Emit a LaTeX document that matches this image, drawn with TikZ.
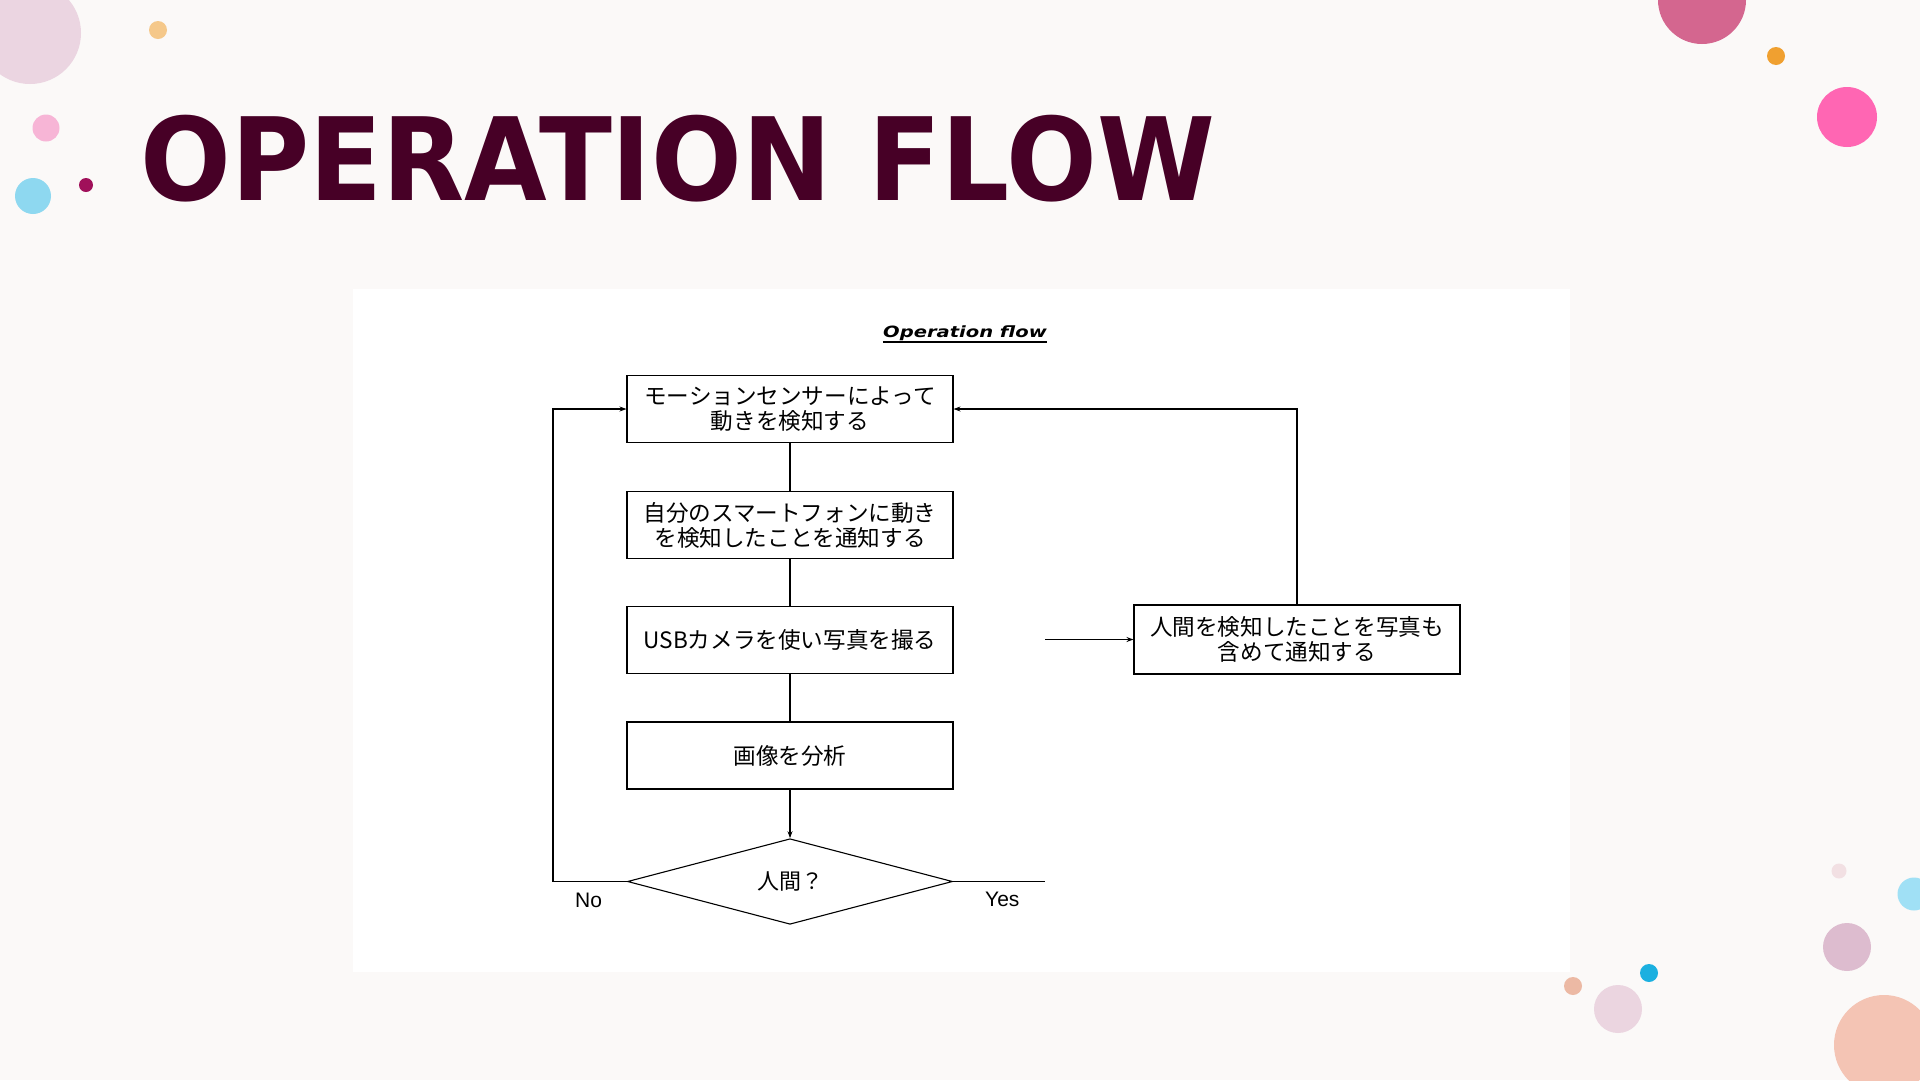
\documentclass[tikz,border=0pt]{standalone}
\usepackage{fontspec}
\usetikzlibrary{shapes.geometric,arrows.meta}
\newfontfamily\jpfont{Noto Sans CJK JP}
\newfontfamily\dvfont{DejaVu Sans}
\newfontfamily\arfont{Liberation Sans}
\definecolor{bgcol}{HTML}{FBF9F8}
\definecolor{titlecol}{HTML}{470026}
\definecolor{cA}{HTML}{EBD5E1}
\definecolor{cB}{HTML}{F5C88A}
\definecolor{cC}{HTML}{F7B5D6}
\definecolor{cD}{HTML}{8ED8F0}
\definecolor{cE}{HTML}{A0105A}
\definecolor{cF}{HTML}{D4668F}
\definecolor{cG}{HTML}{F0A030}
\definecolor{cH}{HTML}{FF66B3}
\definecolor{cI}{HTML}{F2E0E3}
\definecolor{cJ}{HTML}{A0E0F5}
\definecolor{cK}{HTML}{DDBCCF}
\definecolor{cL}{HTML}{F4C4B4}
\definecolor{cM}{HTML}{ECB9A4}
\definecolor{cN}{HTML}{1BB0E0}
\definecolor{cO}{HTML}{EBD5E0}
\tikzset{
  flowbox/.style={draw=black, line width=1.1pt, fill=white, minimum width=326pt,
    minimum height=67pt, inner sep=0pt, align=center,
    font=\jpfont\fontsize{22.6}{25}\selectfont},
  decbox/.style={draw=black, line width=1.1pt, shape=diamond, minimum width=325pt,
    minimum height=85pt, inner sep=0pt, font=\jpfont\fontsize{22}{25}\selectfont},
  conn/.style={line width=1.1pt, draw=black},
  arr/.style={conn, -{Stealth[length=7pt,width=5pt]}},
  lbl/.style={inner sep=0pt, font=\arfont\fontsize{21}{25}\selectfont}
}
\begin{document}
\begin{tikzpicture}[x=1pt,y=-1pt]
\useasboundingbox (0,0) rectangle (1920,1080);
\clip (0,0) rectangle (1920,1080);
\fill[bgcol] (0,0) rectangle (1920,1080);
% decorative dots
\fill[cA] (30,33) circle (51pt);
\fill[cB] (158,30) circle (9pt);
\fill[cC] (46,128) circle (13.5pt);
\fill[cD] (33,196) circle (18pt);
\fill[cE] (86,185) circle (7pt);
\fill[cF] (1702,0) circle (44pt);
\fill[cG] (1776,56) circle (9pt);
\fill[cH] (1847,117) circle (30pt);
\fill[cI] (1839,871) circle (7.5pt);
\fill[cJ] (1914,894) circle (16.5pt);
\fill[cK] (1847,947) circle (24pt);
\fill[cL] (1884,1045) circle (50pt);
\fill[cM] (1573,986) circle (9pt);
\fill[cN] (1649,973) circle (9pt);
\fill[cO] (1618,1009) circle (24pt);
% title
\node[anchor=base west, inner sep=0pt, text=titlecol] (title) at (140,200)
  {\scalebox{0.929}[1]{\dvfont\bfseries\fontsize{115}{120}\selectfont OPERATION FLOW}};
% panel
\fill[white] (353,289) rectangle (1570,972);
\node[anchor=base, inner sep=0pt] (sub) at (965,337)
  {\scalebox{1.26}[1]{\dvfont\bfseries\itshape\fontsize{15.5}{18}\selectfont Operation flow}};
\draw[line width=1.2pt] ([yshift=-5pt]sub.base west) -- ([yshift=-5pt]sub.base east);
% flow nodes
\node[flowbox] (b1) at (790,409) {モーションセンサーによって\\動きを検知する};
\node[flowbox] (b2) at (790,525) {自分のスマートフォンに動き\\を検知したことを通知する};
\node[flowbox] (b3) at (790,640) {USBカメラを使い写真を撮る};
\node[flowbox] (b4) at (790,755.5) {画像を分析};
\node[decbox] (dec) at (790,881.5) {人間？};
\node[flowbox, minimum height=69pt] (b5) at (1297,639.5)
  {人間を検知したことを写真も\\含めて通知する};
\coordinate (nocorner) at (553,881.5);
\coordinate (yesend) at (1045,881.5);
\coordinate (yesfrom) at (1045,639.5);
% connectors
\draw[conn] (b1.south) -- (b2.north);
\draw[conn] (b2.south) -- (b3.north);
\draw[conn] (b3.south) -- (b4.north);
\draw[arr] (b4.south) -- (dec.north);
\draw[arr] (dec.west) -- (nocorner) |- (b1.west);
\draw[conn] (dec.east) -- (yesend);
\draw[arr] (yesfrom) -- (b5.west);
\draw[arr] (b5.north) |- (b1.east);
% labels
\node[lbl, anchor=base west] (nolbl) at (575,907) {No};
\node[lbl, anchor=base west] (yeslbl) at (985,906) {Yes};
\end{tikzpicture}
\end{document}
